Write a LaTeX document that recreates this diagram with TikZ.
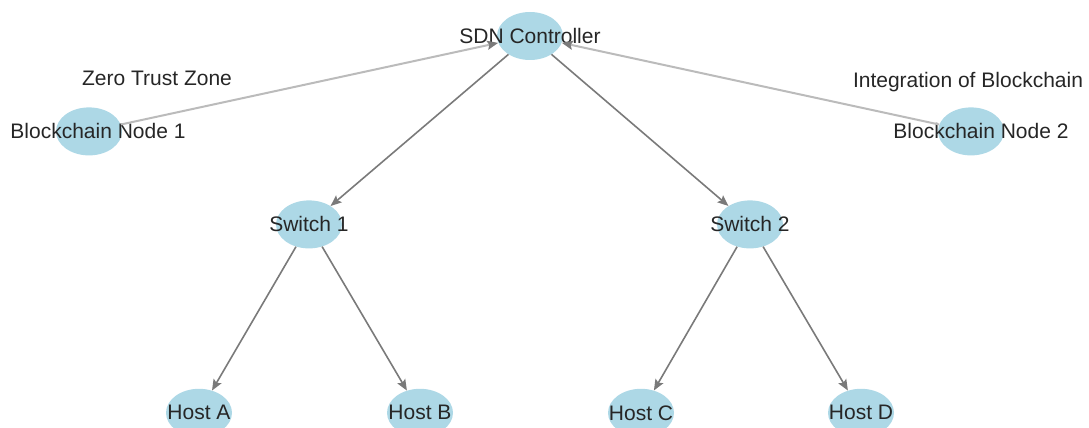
\documentclass[tikz,border=0pt]{standalone}
\usepackage{fontspec}
\setmainfont{Liberation Sans}
\usetikzlibrary{positioning,shapes.geometric,arrows.meta}
\definecolor{nodeblue}{HTML}{ADD8E6}
\definecolor{edgegray}{HTML}{7A7A7A}
\definecolor{linkgray}{HTML}{BBBBBB}
\tikzset{
  netnode/.style ={ellipse, fill=nodeblue, minimum width=66pt, minimum height=48pt, inner sep=0pt},
  nettext/.style ={font=\fontsize{21}{25}\selectfont, text=black!85, inner sep=0pt},
  netedge/.style ={-{Stealth[length=11pt, width=9pt, inset=2pt]}, line width=1.6pt, edgegray},
  bclink/.style  ={-{Stealth[length=11pt, width=9pt, inset=2pt, color=edgegray]}, line width=2pt, linkgray},
}

\begin{document}
\begin{tikzpicture}[x=1pt, y=-1pt, node distance=140pt]
        \useasboundingbox (0,0) rectangle (1089,428);
        % controller
        \node[netnode, label={[nettext]center:SDN Controller}] (ctrl) at (530,36) {};
        % blockchain nodes
        \node[netnode, below=47pt of ctrl, xshift=-441pt,
              label={[nettext, xshift=9pt]center:Blockchain Node 1}] (bc1) {};
        \node[netnode, below=47pt of ctrl, xshift=441pt,
              label={[nettext, xshift=10pt]center:Blockchain Node 2}] (bc2) {};
        \node[nettext] (ztz) at (157,78) {Zero Trust Zone};
        \node[nettext] (iob) at (968,82) {Integration of Blockchain};
        % switches
        \node[netnode, below=of ctrl, xshift=-221pt, label={[nettext]center:Switch 1}] (sw1) {};
        \node[netnode, below=of ctrl, xshift=220pt, label={[nettext]center:Switch 2}] (sw2) {};
        % hosts
        \node[netnode, below=of sw1, xshift=-110pt, label={[nettext]center:Host A}] (hA) {};
        \node[netnode, below=of sw1, xshift=111pt, label={[nettext]center:Host B}] (hB) {};
        \node[netnode, below=of sw2, xshift=-109pt, label={[nettext]center:Host C}] (hC) {};
        \node[netnode, below=of sw2, xshift=111pt, label={[nettext]center:Host D}] (hD) {};
        % links
        \draw[bclink] (bc1) -- (ctrl);
        \draw[bclink] (bc2) -- (ctrl);
        \draw[netedge] (ctrl) -- (sw1);
        \draw[netedge] (ctrl) -- (sw2);
        \draw[netedge] (sw1) -- (hA);
        \draw[netedge] (sw1) -- (hB);
        \draw[netedge] (sw2) -- (hC);
        \draw[netedge] (sw2) -- (hD);
    \end{tikzpicture}
\end{document}
